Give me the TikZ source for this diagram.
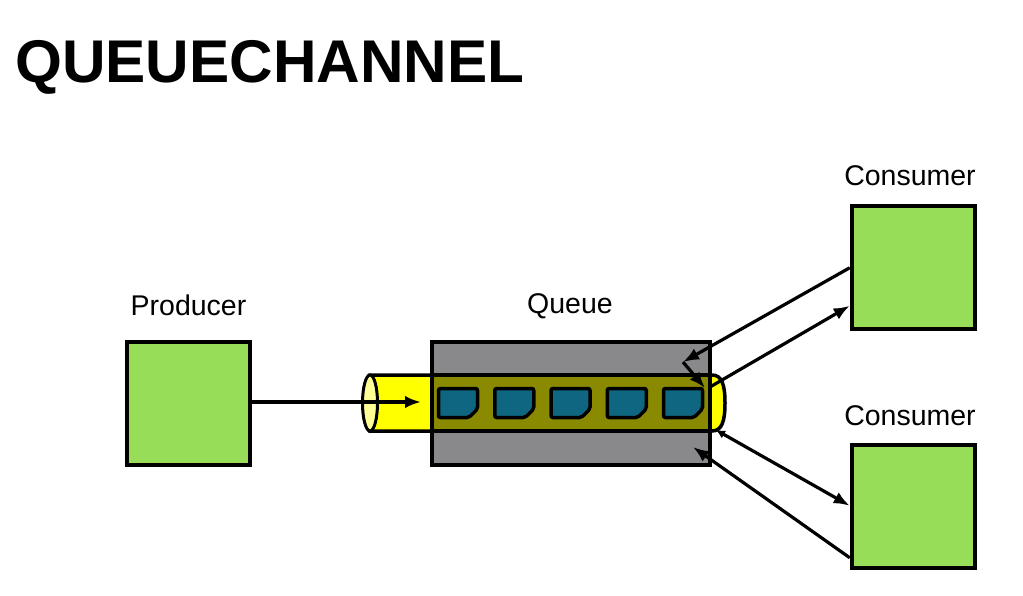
\documentclass[tikz,border=0pt]{standalone}
\usepackage{fontspec}
\setmainfont{Liberation Sans}
\usetikzlibrary{arrows.meta,calc}
\definecolor{boxgreen}{RGB}{152,221,88}
\definecolor{qgray}{RGB}{137,136,138}
\definecolor{tubeolive}{RGB}{138,138,0}
\definecolor{tubeyellow}{RGB}{255,255,0}
\definecolor{capyellow}{RGB}{255,255,150}
\definecolor{msgteal}{RGB}{14,102,128}
\begin{document}
\begin{tikzpicture}[x=1pt,y=-1pt,
  greenbox/.style={draw=black, fill=boxgreen, line width=4.5pt, minimum width=123pt, minimum height=123pt, inner sep=0pt},
  lbl/.style={font=\fontsize{28.5}{34}\selectfont, anchor=base, inner sep=0pt},
  conn/.style={line width=3.2pt, -{Latex[length=16pt,width=12.5pt]}},
  msg/.pic={
    \draw[line width=3.5pt, fill=msgteal, rounded corners=2pt]
      (-19.5,-14.5) -- (19.5,-14.5) -- (19.5,6) -- (11,14.5) -- (-19.5,14.5) -- cycle;
  }]
\useasboundingbox (0,0) rectangle (1023,596);

% title
\node[anchor=base west, inner sep=0pt, font=\fontsize{60.3}{70}\selectfont\bfseries] (title) at (15,83) {QUEUECHANNEL};

% producer and consumers
\node[greenbox] (prod) at (188.5,403.5) {};
\node[greenbox] (cons1) at (913.5,267.5) {};
\node[greenbox] (cons2) at (913.5,506.5) {};
\node[lbl] (prodlbl) at (188.5,315) {Producer};
\node[lbl] (cons1lbl) at (910,186) {Consumer};
\node[lbl] (cons2lbl) at (910,425) {Consumer};
\node[lbl] (queuelbl) at (570,313) {Queue};

% tube outside (yellow)
\draw[line width=3.5pt, fill=tubeyellow]
  (370,375) -- (712,375) .. controls (722,375) and (725,385) .. (725,403)
  .. controls (725,421) and (722,431) .. (712,431) -- (370,431) -- cycle;
% queue box
\node[draw=black, fill=qgray, line width=4.5pt, minimum width=278pt, minimum height=123pt, inner sep=0pt] (queue) at (571,403.5) {};
% tube inside queue
\draw[line width=3.5pt, fill=tubeolive] (432,375) rectangle (710,431);
% left cap
\draw[line width=3pt, fill=capyellow] (370,403) ellipse [x radius=7.5pt, y radius=28pt];

% messages
\foreach \i/\x in {1/458,2/514.25,3/570.5,4/626.75,5/683} {
  \pic at (\x,403) {msg};
  \coordinate (m\i) at (\x,403);
}

% connector points
\coordinate (inlet) at (421,402);
\coordinate (bend1) at (683,362);
\coordinate (grab) at (705,388);
\coordinate (out1) at (710,387);
\coordinate (out2) at (716,430);
\coordinate (ret2) at (693,447);

% connectors
\draw[conn] (prod.east |- inlet) -- (inlet);
\draw[conn] ($(cons1.north west)+(0,64)$) -- (bend1);
\draw[conn] (bend1) -- (grab);
\draw[conn] (out1) -- ($(cons1.north west)+(0,102)$);
\draw[line width=3.2pt, {Latex[length=9pt,width=9pt]}-{Latex[length=16pt,width=12.5pt]}] (out2) -- ($(cons2.north west)+(0,63)$);
\draw[conn] ($(cons2.north west)+(0,115)$) -- (ret2);
\end{tikzpicture}
\end{document}
